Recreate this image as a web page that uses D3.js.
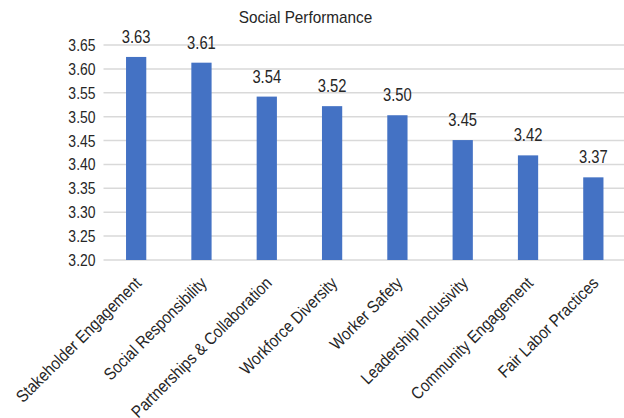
<!DOCTYPE html>
<html>
<head>
<meta charset="utf-8">
<script src="https://cdn.jsdelivr.net/npm/d3@7"></script>
<style>
  body { margin: 0; background: #fff; }
  text { font-family: "Liberation Sans", Arial, sans-serif; fill: #262626; }
</style>
</head>
<body>
<svg id="chart" width="624" height="418"></svg>
<script>
//----------------------------------------------------------- DATA
var categories = ["Stakeholder Engagement", "Social Responsibility", "Partnerships & Collaboration",
                  "Workforce Diversity", "Worker Safety", "Leadership Inclusivity",
                  "Community Engagement", "Fair Labor Practices"];
var scores = [3.625, 3.613, 3.542, 3.522, 3.503, 3.451, 3.419, 3.373];
var yTicks = [3.20, 3.25, 3.30, 3.35, 3.40, 3.45, 3.50, 3.55, 3.60, 3.65];
var title = "Social Performance";

//----------------------------------------------------------- narrow text (no Arial Narrow installed)
function narrow(sel, k) {
  sel.each(function() {
    var w = this.getComputedTextLength();
    d3.select(this).attr("textLength", w * k).attr("lengthAdjust", "spacingAndGlyphs");
  });
}

//----------------------------------------------------------- CHART
var svg = d3.select("#chart"),
    mLeft = 103.5, mRight = 626, mTop = 45, mBottom = 260;

var x = d3.scaleBand().domain(categories).range([mLeft, mRight]).paddingInner(0.69).paddingOuter(0.345);
var y = d3.scaleLinear().domain([3.20, 3.65]).range([mBottom, mTop]);

svg.append("text")
  .attr("x", 305.5).attr("y", 23)
  .attr("text-anchor", "middle")
  .attr("font-size", 17)
  .text(title)
  .call(narrow, 0.9);

// gridlines
svg.append("g").selectAll("line").data(yTicks).enter()
  .append("line")
    .attr("x1", mLeft).attr("x2", 624)
    .attr("y1", d => y(d)).attr("y2", d => y(d))
    .attr("stroke", "#d9d9d9").attr("stroke-width", 1.5);

// y axis labels
var yAxis = d3.axisLeft(y).tickValues(yTicks).tickFormat(d3.format(".2f")).tickSize(0).tickPadding(8);
var gy = svg.append("g").attr("transform", "translate(" + mLeft + ",0)").call(yAxis);
gy.select(".domain").remove();
gy.selectAll("text").attr("font-size", 17).attr("fill", "#262626")
  .attr("font-family", "'Liberation Sans', Arial, sans-serif")
  .call(narrow, 0.82);

// bars
svg.append("g").selectAll("rect").data(scores).enter()
  .append("rect")
    .attr("x", (d, i) => x(categories[i]))
    .attr("width", x.bandwidth())
    .attr("y", d => y(d))
    .attr("height", d => y(3.20) - y(d))
    .attr("fill", "#4472c4");

// value labels
svg.append("g").selectAll("text").data(scores).enter()
  .append("text")
    .attr("x", (d, i) => x(categories[i]) + x.bandwidth() / 2)
    .attr("y", d => y(d) - 14)
    .attr("text-anchor", "middle")
    .attr("font-size", 18)
    .text(d => d3.format(".2f")(d))
    .call(narrow, 0.82);

// category labels
svg.append("g").selectAll("text").data(categories).enter()
  .append("text")
    .attr("transform", d => "translate(" + (x(d) + x.bandwidth() / 2 + 2) + "," + (mBottom + 20) + ") rotate(-45)")
    .attr("text-anchor", "end")
    .attr("dy", "0.35em")
    .attr("font-size", 17)
    .text(d => d)
    .call(narrow, 0.88);
</script>
</body>
</html>
